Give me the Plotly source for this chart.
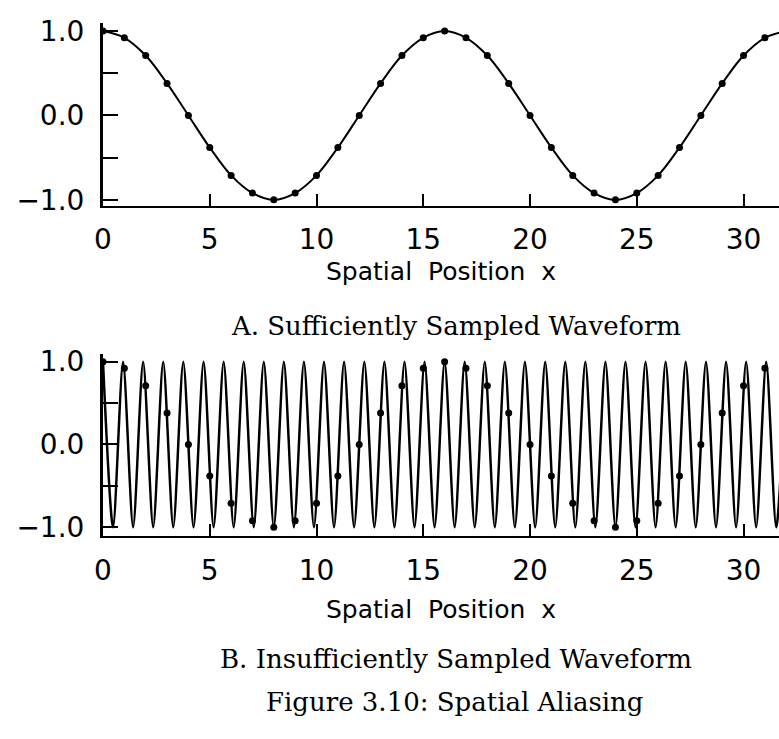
import plotly.graph_objects as go

# ---- data ----
sample_x = list(range(0, 33))
sample_y = [1.0, 0.92, 0.71, 0.38, 0.0, -0.38, -0.71, -0.92,
            -1.0, -0.92, -0.71, -0.38, 0.0, 0.38, 0.71, 0.92,
            1.0, 0.92, 0.71, 0.38, 0.0, -0.38, -0.71, -0.92,
            -1.0, -0.92, -0.71, -0.38, 0.0, 0.38, 0.71, 0.92,
            1.0]

# extrema of the fast waveform (panel B), alternating peak / trough
fast_x = [0.0, 0.47, 0.94, 1.41, 1.88, 2.35, 2.82, 3.29, 3.76, 4.24,
          4.71, 5.18, 5.65, 6.12, 6.59, 7.06, 7.53, 8.0, 8.47, 8.94,
          9.41, 9.88, 10.35, 10.82, 11.29, 11.76, 12.24, 12.71, 13.18, 13.65,
          14.12, 14.59, 15.06, 15.53, 16.0, 16.47, 16.94, 17.41, 17.88, 18.35,
          18.82, 19.29, 19.76, 20.24, 20.71, 21.18, 21.65, 22.12, 22.59, 23.06,
          23.53, 24.0, 24.47, 24.94, 25.41, 25.88, 26.35, 26.82, 27.29, 27.76,
          28.24, 28.71, 29.18, 29.65, 30.12, 30.59, 31.06, 31.53, 32.0]
fast_y = [1, -1, 1, -1, 1, -1, 1, -1, 1, -1,
          1, -1, 1, -1, 1, -1, 1, -1, 1, -1,
          1, -1, 1, -1, 1, -1, 1, -1, 1, -1,
          1, -1, 1, -1, 1, -1, 1, -1, 1, -1,
          1, -1, 1, -1, 1, -1, 1, -1, 1, -1,
          1, -1, 1, -1, 1, -1, 1, -1, 1, -1,
          1, -1, 1, -1, 1, -1, 1, -1, 1]

x_ticks = [0, 5, 10, 15, 20, 25, 30]
y_ticks = [-1.0, -0.5, 0.0, 0.5, 1.0]
y_ticktext = ["\u22121.0", "", "0.0", "", "1.0"]

axis_title = "Spatial  Position  x"
caption_a = "A. Sufficiently Sampled Waveform"
caption_b = "B. Insufficiently Sampled Waveform"
caption_fig = "Figure 3.10: Spatial Aliasing"

# ---- figure ----
W, H = 779, 739
L = 103
def py(pix):
    return 1 - pix / H
def px(pix):
    return (pix - L) / (W - L)

fig = go.Figure()
mk = dict(color="black", size=7)

fig.add_trace(go.Scatter(x=sample_x, y=sample_y, mode="lines",
                         line=dict(shape="spline", smoothing=1.0, color="black", width=2),
                         xaxis="x", yaxis="y", showlegend=False))
fig.add_trace(go.Scatter(x=sample_x, y=sample_y, mode="markers", marker=mk,
                         xaxis="x", yaxis="y", showlegend=False))
fig.add_trace(go.Scatter(x=fast_x, y=fast_y, mode="lines",
                         line=dict(shape="spline", smoothing=0.75, color="black", width=2.5),
                         xaxis="x2", yaxis="y2", showlegend=False))
fig.add_trace(go.Scatter(x=sample_x, y=sample_y, mode="markers", marker=mk,
                         xaxis="x2", yaxis="y2", showlegend=False))

tickfont = dict(family="DejaVu Sans", size=28, color="black")
xax = dict(range=[0, 31.66], tickvals=x_ticks, ticks="inside", ticklen=12,
           tickwidth=2, tickcolor="black", showline=True, linecolor="black",
           linewidth=2, showgrid=False, zeroline=False, tickfont=tickfont,
           ticklabelstandoff=8)
yax = dict(tickvals=y_ticks, ticktext=y_ticktext,
           ticks="inside", ticklen=15, tickwidth=2, tickcolor="black",
           showline=True, linecolor="black", linewidth=3, showgrid=False,
           zeroline=False, tickfont=tickfont, ticklabelstandoff=10)

fig.update_layout(
    width=W, height=H,
    margin=dict(l=L, r=0, t=0, b=0),
    paper_bgcolor="white", plot_bgcolor="white",
    xaxis=dict(domain=[0, 1], anchor="y", **xax),
    yaxis=dict(domain=[py(203), py(15)], anchor="x", range=[-1.07, 1.10], **yax),
    xaxis2=dict(domain=[0, 1], anchor="y2", **xax),
    yaxis2=dict(domain=[py(542), py(355)], anchor="x2", range=[-1.106, 1.094], **yax),
)

sans = dict(family="DejaVu Sans", size=25, color="black")
serif = dict(family="DejaVu Serif", size=26, color="black")
ann = [
    (axis_title, 441, 270, sans),
    (caption_a, 456, 326, serif),
    (axis_title, 441, 617, sans),
    (caption_b, 456, 668, serif),
    (caption_fig, 455, 712, serif),
]
for txt, xpix, ypix, f in ann:
    fig.add_annotation(text=txt, xref="paper", yref="paper", x=px(xpix),
                       y=py(ypix), xanchor="center", yanchor="middle",
                       showarrow=False, font=f)

fig.write_html("out.html", config={"displayModeBar": False},
               post_script="document.body.style.margin='0';document.body.style.overflow='hidden';")
